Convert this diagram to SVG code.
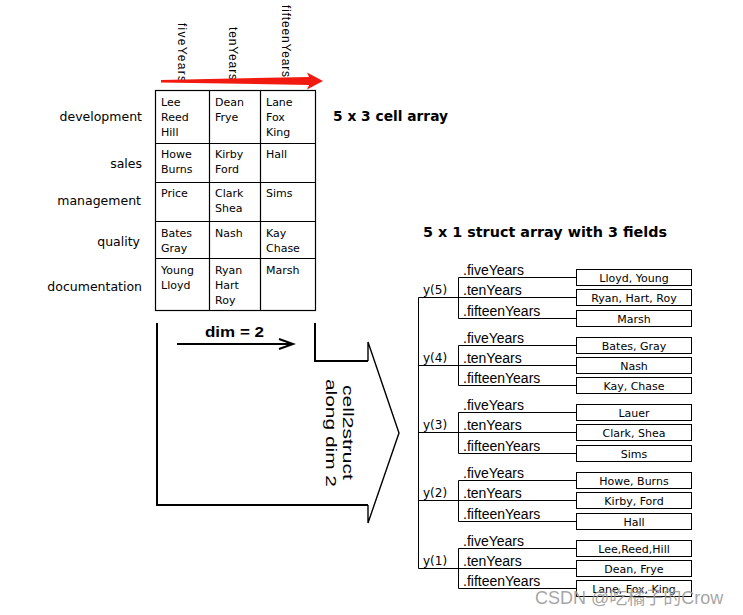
<svg xmlns="http://www.w3.org/2000/svg" width="743" height="615" viewBox="0 0 743 615">
<style>
.cell{font-family:"DejaVu Sans",Verdana,sans-serif;font-size:11px;fill:#000}
.row{font-family:"DejaVu Sans",Verdana,sans-serif;font-size:12.5px;text-anchor:end;fill:#000}
.hdr{font-family:"Liberation Sans",Arial,sans-serif;font-size:12px;fill:#000}
.title{font-family:"DejaVu Sans",Verdana,sans-serif;font-weight:bold;font-size:14px;fill:#000}
.field{font-family:"Liberation Sans",Arial,sans-serif;font-size:14px;fill:#000}
.ylbl{font-family:"DejaVu Sans",Verdana,sans-serif;font-size:12px;fill:#000}
.bt{font-family:"DejaVu Sans",Verdana,sans-serif;font-size:11px;text-anchor:middle;fill:#000}
.big{font-family:"Liberation Sans",Arial,sans-serif;font-size:14px;fill:#000}
.box{fill:#fff;stroke:#000;stroke-width:1}
.ln{stroke:#000;stroke-width:1;fill:none}
.tbl{stroke:#000;stroke-width:1.2;fill:none}
</style>
<rect width="743" height="615" fill="#fff"/>

<!-- column headers -->
<g id="headers">
<text class="hdr" transform="translate(178,23) rotate(90)" textLength="59" lengthAdjust="spacing">fiveYears</text>
<text class="hdr" transform="translate(229,27) rotate(90)" textLength="53" lengthAdjust="spacing">tenYears</text>
<text class="hdr" transform="translate(282,5) rotate(90)" textLength="72" lengthAdjust="spacing">fifteenYears</text>
</g>
<path id="redArrow" d="M161,80 L309,77 L307,72.5 L323,81 L307,89.5 L309,85 L161,82.5 Z" fill="#f21a10"/>

<!-- cell array -->
<g id="cellArray">
<rect class="tbl" x="155.5" y="90.5" width="160" height="220"/>
<path class="tbl" d="M209.5,90.5V310.5M260.5,90.5V310.5M155.5,143.5H315.5M155.5,182.5H315.5M155.5,221.5H315.5M155.5,258.5H315.5"/>
<g class="cell">
<text x="161" y="106">Lee</text><text x="161" y="121">Reed</text><text x="161" y="136">Hill</text>
<text x="215" y="106">Dean</text><text x="215" y="121">Frye</text>
<text x="266" y="106">Lane</text><text x="266" y="121">Fox</text><text x="266" y="136">King</text>
<text x="161" y="158">Howe</text><text x="161" y="173">Burns</text>
<text x="215" y="158">Kirby</text><text x="215" y="173">Ford</text>
<text x="266" y="158">Hall</text>
<text x="161" y="197">Price</text>
<text x="215" y="197">Clark</text><text x="215" y="212">Shea</text>
<text x="266" y="197">Sims</text>
<text x="161" y="237">Bates</text><text x="161" y="252">Gray</text>
<text x="215" y="237">Nash</text>
<text x="266" y="237">Kay</text><text x="266" y="252">Chase</text>
<text x="161" y="274">Young</text><text x="161" y="289">Lloyd</text>
<text x="215" y="274">Ryan</text><text x="215" y="289">Hart</text><text x="215" y="304">Roy</text>
<text x="266" y="274">Marsh</text>
</g>
</g>
<g id="rowLabels">
<text class="row" x="142" y="121">development</text>
<text class="row" x="142" y="168">sales</text>
<text class="row" x="141" y="205">management</text>
<text class="row" x="140" y="246">quality</text>
<text class="row" x="142" y="291">documentation</text>
</g>
<text class="title" x="333" y="121" textLength="115" lengthAdjust="spacingAndGlyphs">5 x 3 cell array</text>

<!-- big transformation arrow -->
<g id="bigArrow">
<path d="M157,323 V505 H368 M315,323 V361 H368" fill="none" stroke="#000" stroke-width="2"/>
<path d="M368,361 V342 L399,433 L368,523 V505" fill="none" stroke="#000" stroke-width="1.4" stroke-linejoin="miter"/>
<text class="big" transform="translate(343,385) rotate(90)" textLength="95" lengthAdjust="spacingAndGlyphs">cell2struct</text>
<text class="big" transform="translate(326,379) rotate(90)" textLength="108" lengthAdjust="spacingAndGlyphs">along dim 2</text>
</g>
<g id="dimArrow">
<text class="big" x="205" y="337" font-weight="bold" textLength="59" lengthAdjust="spacingAndGlyphs">dim = 2</text>
<path d="M177,344 H292 M279,339 L293,344 L279,349" fill="none" stroke="#000" stroke-width="2"/>
</g>

<text class="title" x="423" y="237" textLength="244" lengthAdjust="spacingAndGlyphs">5 x 1 struct array with 3 fields</text>

<!-- connectors of struct tree -->
<g id="connectors" class="ln">
<path class="ln" d="M418.5,297.5 V568.5"/>
<path class="ln" d="M418.5,297.5 H576.5 M458.5,277.5 V318.5 M458.5,277.5 H576.5 M458.5,318.5 H576.5"/>
<path class="ln" d="M418.5,365.5 H576.5 M458.5,345.5 V385.5 M458.5,345.5 H576.5 M458.5,385.5 H576.5"/>
<path class="ln" d="M418.5,432.5 H576.5 M458.5,412.5 V453.5 M458.5,412.5 H576.5 M458.5,453.5 H576.5"/>
<path class="ln" d="M418.5,500.5 H576.5 M458.5,480.5 V521.5 M458.5,480.5 H576.5 M458.5,521.5 H576.5"/>
<path class="ln" d="M418.5,568.5 H576.5 M458.5,548.5 V588.5 M458.5,548.5 H576.5 M458.5,588.5 H576.5"/>
</g>

<!-- struct elements -->
<g id="y5">
<text class="ylbl" x="423" y="294">y(5)</text>
<text class="field" x="463" y="275">.fiveYears</text>
<text class="field" x="463" y="295">.tenYears</text>
<text class="field" x="463" y="316">.fifteenYears</text>
<g id="y5_five"><rect class="box" x="576.5" y="269.5" width="115" height="16"/><text class="bt" x="634" y="282">Lloyd, Young</text></g>
<g id="y5_ten"><rect class="box" x="576.5" y="289.5" width="115" height="16"/><text class="bt" x="634" y="302">Ryan, Hart, Roy</text></g>
<g id="y5_fifteen"><rect class="box" x="576.5" y="310.5" width="115" height="16"/><text class="bt" x="634" y="323">Marsh</text></g>
</g>
<g id="y4">
<text class="ylbl" x="423" y="362">y(4)</text>
<text class="field" x="463" y="343">.fiveYears</text>
<text class="field" x="463" y="363">.tenYears</text>
<text class="field" x="463" y="383">.fifteenYears</text>
<g id="y4_five"><rect class="box" x="576.5" y="337.5" width="115" height="16"/><text class="bt" x="634" y="350">Bates, Gray</text></g>
<g id="y4_ten"><rect class="box" x="576.5" y="357.5" width="115" height="16"/><text class="bt" x="634" y="370">Nash</text></g>
<g id="y4_fifteen"><rect class="box" x="576.5" y="377.5" width="115" height="16"/><text class="bt" x="634" y="390">Kay, Chase</text></g>
</g>
<g id="y3">
<text class="ylbl" x="423" y="429">y(3)</text>
<text class="field" x="463" y="410">.fiveYears</text>
<text class="field" x="463" y="430">.tenYears</text>
<text class="field" x="463" y="451">.fifteenYears</text>
<g id="y3_five"><rect class="box" x="576.5" y="404.5" width="115" height="16"/><text class="bt" x="634" y="417">Lauer</text></g>
<g id="y3_ten"><rect class="box" x="576.5" y="424.5" width="115" height="16"/><text class="bt" x="634" y="437">Clark, Shea</text></g>
<g id="y3_fifteen"><rect class="box" x="576.5" y="445.5" width="115" height="16"/><text class="bt" x="634" y="458">Sims</text></g>
</g>
<g id="y2">
<text class="ylbl" x="423" y="497">y(2)</text>
<text class="field" x="463" y="478">.fiveYears</text>
<text class="field" x="463" y="498">.tenYears</text>
<text class="field" x="463" y="519">.fifteenYears</text>
<g id="y2_five"><rect class="box" x="576.5" y="472.5" width="115" height="16"/><text class="bt" x="634" y="485">Howe, Burns</text></g>
<g id="y2_ten"><rect class="box" x="576.5" y="492.5" width="115" height="16"/><text class="bt" x="634" y="505">Kirby, Ford</text></g>
<g id="y2_fifteen"><rect class="box" x="576.5" y="513.5" width="115" height="16"/><text class="bt" x="634" y="526">Hall</text></g>
</g>
<g id="y1">
<text class="ylbl" x="423" y="565">y(1)</text>
<text class="field" x="463" y="546">.fiveYears</text>
<text class="field" x="463" y="566">.tenYears</text>
<text class="field" x="463" y="586">.fifteenYears</text>
<g id="y1_five"><rect class="box" x="576.5" y="540.5" width="115" height="16"/><text class="bt" x="634" y="553">Lee,Reed,Hill</text></g>
<g id="y1_ten"><rect class="box" x="576.5" y="560.5" width="115" height="16"/><text class="bt" x="634" y="573">Dean, Frye</text></g>
<g id="y1_fifteen"><rect class="box" x="576.5" y="580.5" width="115" height="16"/><text class="bt" x="634" y="593">Lane, Fox, King</text></g>
</g>

<text x="535" y="604" font-family="'Liberation Sans','Noto Sans CJK SC',sans-serif" font-size="18" fill="#9a9a9a" fill-opacity="0.9">CSDN @吃橘子的Crow</text>
</svg>
